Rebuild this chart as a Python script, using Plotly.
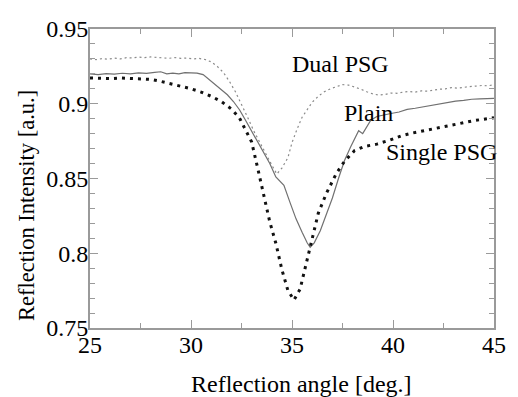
import plotly.graph_objects as go

# Reflection intensity vs. reflection angle for three surface types
dual_x = [25.0, 25.3, 25.6, 25.9, 26.2, 26.5, 26.8, 27.1, 27.4, 27.7, 28.0, 28.3, 28.6, 28.9,
          29.2, 29.5, 29.8, 30.1, 30.4, 30.7, 31.0, 31.3, 31.6, 31.9, 32.2, 32.5, 32.8, 33.1,
          33.4, 33.7, 34.0, 34.25, 34.5, 34.8, 35.0, 35.25, 35.5, 35.75, 36.0, 36.3, 36.6,
          36.9, 37.2, 37.5, 37.8, 38.1, 38.4, 38.7, 39.0, 39.3, 39.6, 39.9, 40.2, 40.5, 40.8,
          41.1, 41.4, 41.7, 42.0, 42.3, 42.6, 42.9, 43.2, 43.5, 43.8, 44.1, 44.4, 44.7, 45.0]
dual_y = [0.9300, 0.9295, 0.9302, 0.9298, 0.9305, 0.9300, 0.9308, 0.9306, 0.9312, 0.9308,
          0.9313, 0.9310, 0.9308, 0.9304, 0.9309, 0.9303, 0.9306, 0.9300, 0.9303, 0.9296,
          0.9280, 0.9250, 0.9210, 0.9150, 0.9080, 0.9000, 0.8910, 0.8820, 0.8740, 0.8660,
          0.8590, 0.8530, 0.8570, 0.8640, 0.8740, 0.8830, 0.8910, 0.8960, 0.9010, 0.9050,
          0.9080, 0.9100, 0.9115, 0.9128, 0.9125, 0.9112, 0.9098, 0.9080, 0.9066, 0.9058,
          0.9062, 0.9072, 0.9070, 0.9078, 0.9082, 0.9078, 0.9086, 0.9084, 0.9092, 0.9097,
          0.9100, 0.9108, 0.9104, 0.9112, 0.9115, 0.9118, 0.9122, 0.9120, 0.9127]

plain_x = [25.0, 25.4, 25.8, 26.2, 26.6, 27.0, 27.4, 27.8, 28.2, 28.5, 28.8, 29.1, 29.4, 29.7,
           30.0, 30.3, 30.6, 30.9, 31.2, 31.5, 31.8, 32.1, 32.4, 32.7, 33.0, 33.3, 33.6, 33.9,
           34.2, 34.6, 34.9, 35.2, 35.5, 35.75, 35.9, 36.1, 36.4, 36.7, 37.0, 37.3, 37.6, 37.9,
           38.1, 38.3, 38.5, 38.7, 38.9, 39.2, 39.5, 39.9, 40.3, 40.7, 41.1, 41.5, 41.9, 42.3,
           42.7, 43.1, 43.5, 43.9, 44.3, 44.7, 45.0]
plain_y = [0.9200, 0.9195, 0.9202, 0.9198, 0.9204, 0.9200, 0.9206, 0.9203, 0.9210, 0.9214,
           0.9200, 0.9205, 0.9200, 0.9208, 0.9207, 0.9205, 0.9195, 0.9160, 0.9125, 0.9095,
           0.9060, 0.9015, 0.8960, 0.8890, 0.8820, 0.8750, 0.8680, 0.8600, 0.8510, 0.8455,
           0.8340, 0.8230, 0.8140, 0.8070, 0.8040, 0.8070, 0.8150, 0.8260, 0.8370, 0.8500,
           0.8620, 0.8710, 0.8770, 0.8820, 0.8800, 0.8850, 0.8890, 0.8915, 0.8925, 0.8935,
           0.8945, 0.8962, 0.8970, 0.8980, 0.8988, 0.8997, 0.9008, 0.9018, 0.9022, 0.9030,
           0.9033, 0.9032, 0.9036]

single_x = [25.0, 25.5, 26.0, 26.5, 27.0, 27.5, 28.0, 28.5, 29.0, 29.5, 30.0, 30.5, 31.0,
            31.5, 32.0, 32.4, 32.8, 33.0, 33.3, 33.6, 33.9, 34.2, 34.5, 34.8, 35.1, 35.4,
            35.7, 36.0, 36.3, 36.7, 37.2, 37.6, 38.1, 38.6, 39.2, 39.8, 40.4, 41.0, 41.6,
            42.2, 42.8, 43.4, 44.0, 44.5, 45.0]
single_y = [0.9173, 0.9170, 0.9168, 0.9172, 0.9170, 0.9168, 0.9163, 0.9150, 0.9135, 0.9118,
            0.9100, 0.9078, 0.9050, 0.9015, 0.8965, 0.8905, 0.8800, 0.8745, 0.8570, 0.8380,
            0.8210, 0.8067, 0.7890, 0.7750, 0.7687, 0.7760, 0.7930, 0.8100, 0.8267, 0.8400,
            0.8535, 0.8615, 0.8687, 0.8715, 0.8730, 0.8755, 0.8785, 0.8805, 0.8822, 0.8840,
            0.8855, 0.8872, 0.8887, 0.8897, 0.8907]

x_ticks = [25, 30, 35, 40, 45]
y_ticks = [0.75, 0.8, 0.85, 0.9, 0.95]
y_tick_text = ["0.75", "0.8", "0.85", "0.9", "0.95"]

series_labels = ["Dual PSG", "Plain", "Single PSG"]
label_pos = [(37.4, 0.9266), (38.8, 0.8941), (42.4, 0.8674)]

FONT = "Liberation Serif, Times New Roman, DejaVu Serif, serif"
FRAME = "#9a9a9a"

fig = go.Figure()
fig.add_trace(go.Scatter(x=dual_x, y=dual_y, mode="lines",
                         line=dict(color="#8a8a8a", width=1.2, dash="2px,3px")))
fig.add_trace(go.Scatter(x=plain_x, y=plain_y, mode="lines",
                         line=dict(color="#707070", width=1.2)))
fig.add_trace(go.Scatter(x=single_x, y=single_y, mode="lines",
                         line=dict(color="#111111", width=3, dash="3px,5px")))

for text, (lx, ly) in zip(series_labels, label_pos):
    fig.add_annotation(x=lx, y=ly, text=text, showarrow=False, xanchor="center",
                       yanchor="middle", font=dict(family=FONT, size=24, color="black"))

# axis titles
fig.add_annotation(xref="paper", yref="paper", x=0.524, y=-0.187,
                   text="Reflection angle [deg.]", showarrow=False,
                   xanchor="center", yanchor="middle",
                   font=dict(family=FONT, size=24, color="black"))
fig.add_annotation(xref="paper", yref="paper", x=-0.157, y=0.41,
                   text="Reflection Intensity [a.u.]", showarrow=False, textangle=-90,
                   xanchor="center", yanchor="middle",
                   font=dict(family=FONT, size=22.5, color="black"))

axis_common = dict(showgrid=False, zeroline=False, showline=True, linecolor=FRAME,
                   linewidth=2, mirror="ticks", ticks="inside", tickcolor=FRAME,
                   tickwidth=1, ticklen=8,
                   tickfont=dict(family=FONT, size=24, color="black"))

fig.update_xaxes(range=[25, 45], tickvals=x_ticks, ticklabelstandoff=-6,
                 minor=dict(dtick=2.5, tick0=25, ticks="inside", ticklen=5,
                            tickcolor=FRAME, tickwidth=1),
                 **axis_common)
fig.update_yaxes(range=[0.75, 0.95], tickvals=y_ticks, ticktext=y_tick_text,
                 ticklabelstandoff=-5,
                 minor=dict(dtick=0.01, tick0=0.75, ticks="inside", ticklen=5,
                            tickcolor=FRAME, tickwidth=1),
                 **axis_common)

fig.update_layout(width=518, height=397, margin=dict(l=90, r=13, t=29, b=69),
                  paper_bgcolor="white", plot_bgcolor="white", showlegend=False,
                  font=dict(family=FONT))

fig.write_html("out.html")
